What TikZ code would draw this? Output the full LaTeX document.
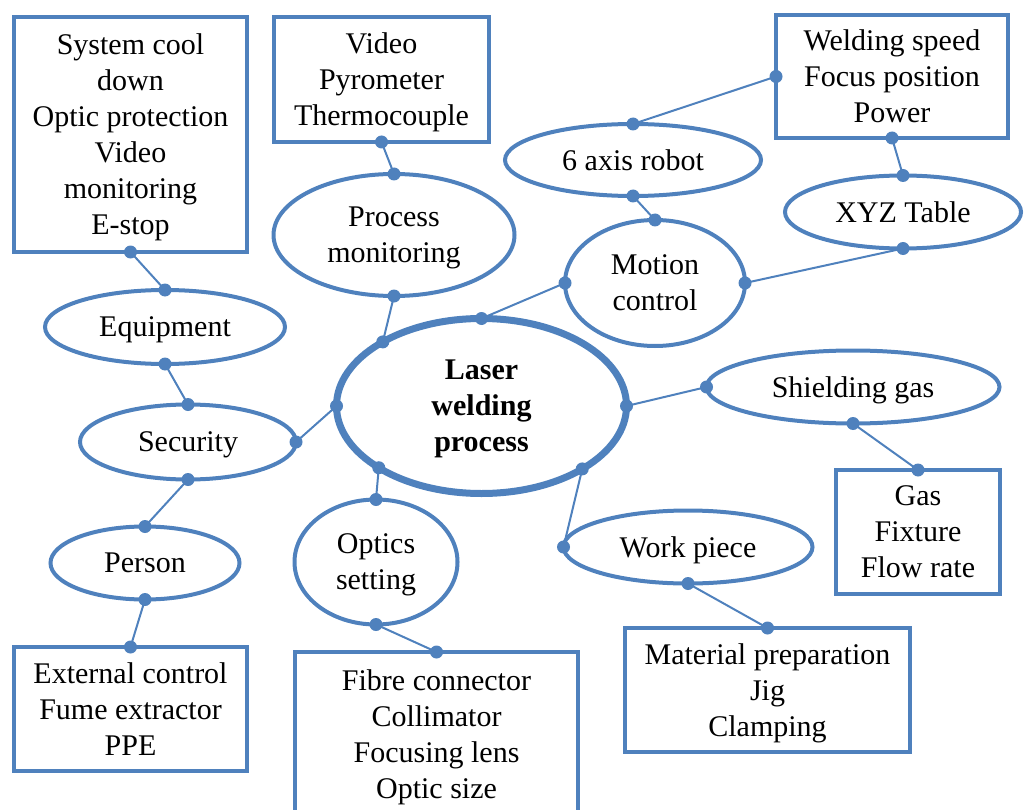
\documentclass[tikz,border=0pt]{standalone}
\usepackage{fontspec}
\setmainfont{Liberation Serif}
\usetikzlibrary{shapes.geometric}
\definecolor{wblue}{RGB}{79,129,189}
\newcommand{\wire}[2]{\draw[link] (#1)--(#2); \fill[wblue] (#1) circle (6.5pt) (#2) circle (6.5pt);}

\begin{document}
\begin{tikzpicture}[x=1pt,y=-1pt,
	every node/.style={font=\fontsize{30}{36}\selectfont, align=center, inner sep=0pt, outer sep=0pt, text depth=0pt},
	topic/.style={ellipse, draw=wblue, line width=4pt},
	core/.style={ellipse, draw=wblue, line width=7pt, font=\fontsize{30}{36}\selectfont\bfseries},
	item/.style={rectangle, draw=wblue, line width=4pt},
	link/.style={draw=wblue, line width=2pt}]
		\useasboundingbox (0,0) rectangle (1024,810);
		% centre
		\node[core, minimum width=290pt, minimum height=175pt] (laser) at (481.5,406) {Laser\\welding\\process};
		% topics
		\node[topic, minimum width=241pt, minimum height=122pt] (monitor) at (394,235) {Process\\monitoring};
		\node[topic, minimum width=240pt, minimum height=74pt] (equip) at (165,327) {Equipment};
		\node[topic, minimum width=216pt, minimum height=75pt] (secu) at (188,442) {Security};
		\node[topic, minimum width=189pt, minimum height=73pt] (person) at (145,563) {Person};
		\node[topic, minimum width=163pt, minimum height=125pt] (optics) at (376,562) {Optics\\setting};
		\node[topic, minimum width=256pt, minimum height=72pt] (robot) at (633,160) {6 axis robot};
		\node[topic, minimum width=180pt, minimum height=126pt] (motion) at (655,283) {Motion\\control};
		\node[topic, minimum width=236pt, minimum height=73pt] (xyz) at (903,212) {XYZ Table};
		\node[topic, minimum width=293pt, minimum height=73pt] (gas) at (853,387) {Shielding gas};
		\node[topic, minimum width=249pt, minimum height=73pt] (work) at (688,547) {Work piece};
		% items
		\node[item, minimum width=233pt, minimum height=235pt] (coolbox) at (130.5,134.5) {System cool\\down\\Optic protection\\Video\\monitoring\\E-stop};
		\node[item, minimum width=215pt, minimum height=125pt] (sensbox) at (381.5,79.5) {Video\\Pyrometer\\Thermocouple};
		\node[item, minimum width=232pt, minimum height=123pt] (parabox) at (892,76.5) {Welding speed\\Focus position\\Power};
		\node[item, minimum width=233pt, minimum height=124pt] (safebox) at (130.5,709) {External control\\Fume extractor\\PPE};
		\node[item, minimum width=283pt, minimum height=164pt] (lensbox) at (436.5,734) {Fibre connector\\Collimator\\Focusing lens\\Optic size};
		\node[item, minimum width=285pt, minimum height=124pt] (jigbox) at (767.5,690) {Material preparation\\Jig\\Clamping};
		\node[item, minimum width=164pt, minimum height=124pt] (flowbox) at (918,532) {Gas\\Fixture\\Flow rate};
		% links
		\wire{coolbox.south}{equip.north}
		\wire{equip.south}{secu.north}
		\wire{secu.south}{person.north}
		\wire{person.south}{safebox.north}
		\wire{secu.east}{laser.west}
		\wire{sensbox.south}{monitor.north}
		\wire{monitor.south}{laser.147.6}
		\wire{laser.211.5}{optics.north}
		\wire{optics.south}{lensbox.north}
		\wire{laser.north}{motion.west}
		\wire{robot.south}{motion.north}
		\wire{robot.north}{parabox.west}
		\wire{parabox.south}{xyz.north}
		\wire{xyz.south}{motion.east}
		\wire{laser.east}{gas.west}
		\wire{gas.south}{flowbox.north}
		\wire{laser.328.5}{work.west}
		\wire{work.south}{jigbox.north}
\end{tikzpicture}
\end{document}
